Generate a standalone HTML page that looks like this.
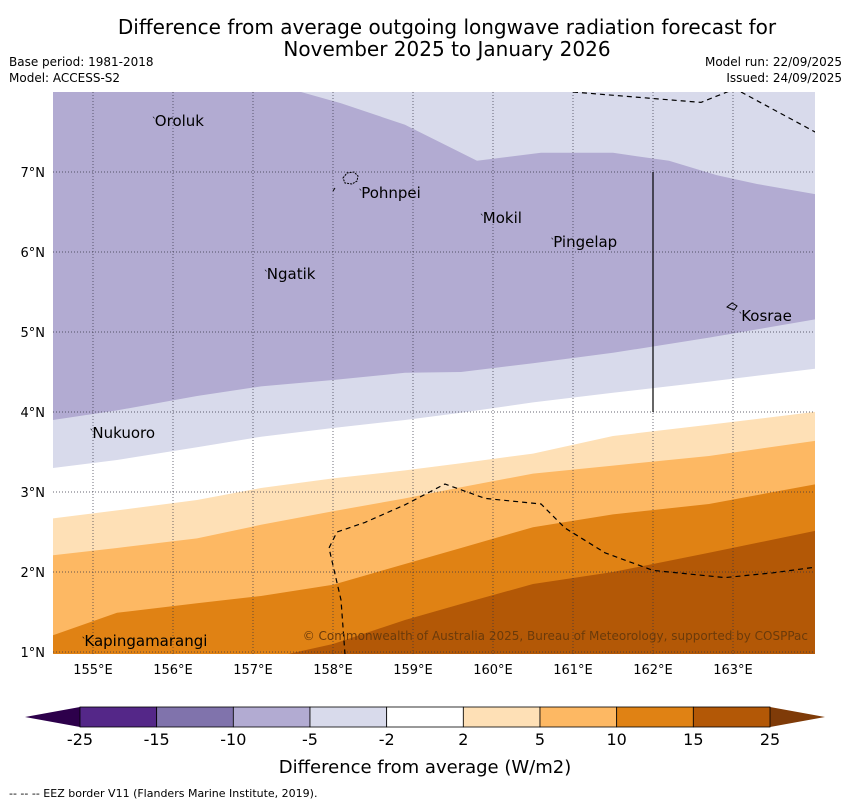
<!DOCTYPE html>
<html><head><meta charset="utf-8"><style>
body{margin:0;background:#fff;font-family:"Liberation Sans","DejaVu Sans",sans-serif;}
svg text{font-family:"DejaVu Sans","Liberation Sans",sans-serif;}
</style></head><body>
<svg id="c" width="850" height="804" viewBox="0 0 850 804" xmlns="http://www.w3.org/2000/svg">
<text x="447" y="34" font-size="20" text-anchor="middle">Difference from average outgoing longwave radiation forecast for</text>
<text x="447" y="56" font-size="20" text-anchor="middle">November 2025 to January 2026</text>
<text x="9" y="66" font-size="12">Base period: 1981-2018</text>
<text x="9" y="82" font-size="12">Model: ACCESS-S2</text>
<text x="842" y="66" font-size="12" text-anchor="end">Model run: 22/09/2025</text>
<text x="842" y="82" font-size="12" text-anchor="end">Issued: 24/09/2025</text>
<defs><clipPath id="mc"><rect x="53" y="92" width="762" height="562"/></clipPath></defs>
<g id="map" clip-path="url(#mc)"></g>
<g id="ov"></g>
<text x="808" y="640" font-size="12" fill="#6b3a0a" text-anchor="end">© Commonwealth of Australia 2025, Bureau of Meteorology, supported by COSPPac</text>
<g id="cb"></g>
<text x="425" y="773" font-size="18" text-anchor="middle">Difference from average (W/m2)</text>
<text x="9" y="797" font-size="11">--  --  -- EEZ border V11 (Flanders Marine Institute, 2019).</text>
</svg>
<script>
const lonTicks=[155,156,157,158,159,160,161,162,163];
const latTicks=[1,2,3,4,5,6,7];
const bandColors=['#b2abd2','#d8daeb','#ffffff','#fee0b6','#fdb863','#e08214','#b35806'];
const bLons=[154.5,155.3,156.3,157.1,158.0,158.9,159.6,160.5,161.5,162.7,164.1];
const boundB=[3.9,4.02,4.2,4.32,4.4,4.49,4.5,4.61,4.74,4.93,5.17];
const boundC=[3.3,3.4,3.56,3.69,3.8,3.9,3.99,4.12,4.24,4.38,4.55];
const boundD=[2.67,2.77,2.9,3.05,3.17,3.27,3.36,3.48,3.7,3.84,4.01];
const boundE=[2.21,2.3,2.42,2.59,2.76,2.92,3.06,3.23,3.33,3.45,3.65];
const boundF=[1.21,1.49,1.61,1.7,1.84,2.1,2.3,2.56,2.72,2.85,3.11];
const boundG=[0.6,0.7,0.8,0.9,1.1,1.4,1.6,1.85,2.0,2.24,2.53];
const topLons=[157.6,158.1,158.9,159.4,159.8,160.6,161.5,162.2,162.8,163.3,164.1];
const topBound=[8.0,7.86,7.59,7.34,7.14,7.24,7.24,7.14,6.96,6.85,6.71];
const eezTop=[[161.0,8.0],[162.6,7.87],[163.0,8.03]];
const eezTop2=[[163.1,8.0],[164.1,7.46]];
const eezBot=[[158.15,0.97],[158.1,1.65],[157.95,2.3],[158.05,2.5],[158.4,2.62],[158.9,2.84],[159.4,3.1],[159.9,2.92],[160.6,2.85],[160.9,2.55],[161.4,2.24],[162.0,2.02],[162.9,1.93],[163.5,1.99],[164.1,2.07]];
const islands=[['Oroluk',155.76,7.65],['Pohnpei',158.34,6.75],['Mokil',159.86,6.44],['Pingelap',160.74,6.14],['Ngatik',157.16,5.74],['Kosrae',163.09,5.21],['Nukuoro',154.98,3.75],['Kapingamarangi',154.88,1.15]];
const cbLabels=['-25','-15','-10','-5','-2','2','5','10','15','25'];
const cbColors=['#542788','#8073ac','#b2abd2','#d8daeb','#ffffff','#fee0b6','#fdb863','#e08214','#b35806'];
const X=lon=>53+(lon-154.5)*80, Y=lat=>92+(8-lat)*80;
const NS='http://www.w3.org/2000/svg';
function mk(p,t,a){const e=document.createElementNS(NS,t);for(const k in a)e.setAttribute(k,a[k]);p.appendChild(e);return e;}
const map=document.getElementById('map'),ov=document.getElementById('ov'),cb=document.getElementById('cb');
let r=mk(map,'rect',{x:53,y:92,width:762,height:562,fill:'#b2abd2'});


let tp='M'+X(topLons[0])+','+Y(8.2)+' '+topLons.map((l,i)=>'L'+X(l)+','+Y(topBound[i])).join(' ')+' L'+X(164.2)+','+Y(topBound[topBound.length-1])+' L'+X(164.2)+','+Y(8.2)+'Z';
let t=mk(map,'path',{d:tp,fill:'#d8daeb'});


const bounds=[boundB,boundC,boundD,boundE,boundF,boundG];
bounds.forEach((b,k)=>{
  let d='M'+X(154.4)+','+Y(b[0])+' '+bLons.map((l,i)=>'L'+X(l)+','+Y(b[i])).join(' ')+' L'+X(164.2)+','+Y(0)+' L'+X(154.4)+','+Y(0)+'Z';
  const p=mk(map,'path',{d:d,fill:bandColors[k+1]});
  
  
});
lonTicks.forEach(l=>{const g=mk(map,'line',{x1:X(l),x2:X(l),y1:92,y2:654,stroke:'#334',"stroke-width":0.7,"stroke-dasharray":'1,2'});


const tx=mk(ov,'text',{x:X(l),y:674,"font-size":13,"text-anchor":'middle'});tx.textContent=l+'°E';

});
latTicks.forEach(l=>{const g=mk(map,'line',{x1:53,x2:815,y1:Y(l),y2:Y(l),stroke:'#334',"stroke-width":0.7,"stroke-dasharray":'1,2'});


const tx=mk(ov,'text',{x:45,y:Y(l)+5,"font-size":13,"text-anchor":'end'});tx.textContent=l+'°N';

});
function line(pts,name,dash){const e=mk(map,'polyline',{points:pts.map(p=>X(p[0])+','+Y(p[1])).join(' '),fill:'none',stroke:'#000',"stroke-width":1.2,"stroke-dasharray":dash});

}
line(eezTop,'eez-border-north','5,4');line(eezTop2,'eez-border-ne','5,4');line(eezBot,'eez-border-south','5,4');
line([[162,7],[162,4]],'boundary-line','none');
islands.forEach(s=>{const m=mk(ov,'text',{x:X(s[1])-2,y:Y(s[2])-4,"font-size":10});m.textContent='\u02CE';
const tx=mk(ov,'text',{x:X(s[1])+1,y:Y(s[2])+6,"font-size":15});tx.textContent=s[0];

});
mk(ov,'path',{d:'M343,178 l4,-5 7,-1 4,4 -1,5 -5,3 -7,-1z',fill:'none',stroke:'#000',"stroke-dasharray":'2,1'});
mk(ov,'path',{d:'M333,191 l2,-3',stroke:'#000'});
mk(ov,'path',{d:'M727,307 l5,-4 5,3 -3,4z',fill:'none',stroke:'#000'});
const cx0=80,cw=(770-80)/cbColors.length;
mk(cb,'polygon',{points:'80,707 25,717 80,727',fill:'#2d004b'});
mk(cb,'polygon',{points:'770,707 825,717 770,727',fill:'#7f3b08'});
cbColors.forEach((c,i)=>{const e=mk(cb,'rect',{x:cx0+i*cw,y:707,width:cw,height:20,fill:c,stroke:'#000',"stroke-width":0.8});

});
cbLabels.forEach((l,i)=>{const e=mk(cb,'text',{x:cx0+i*cw,y:745,"font-size":16,"text-anchor":'middle'});e.textContent=l;

});
</script>
</body></html>
